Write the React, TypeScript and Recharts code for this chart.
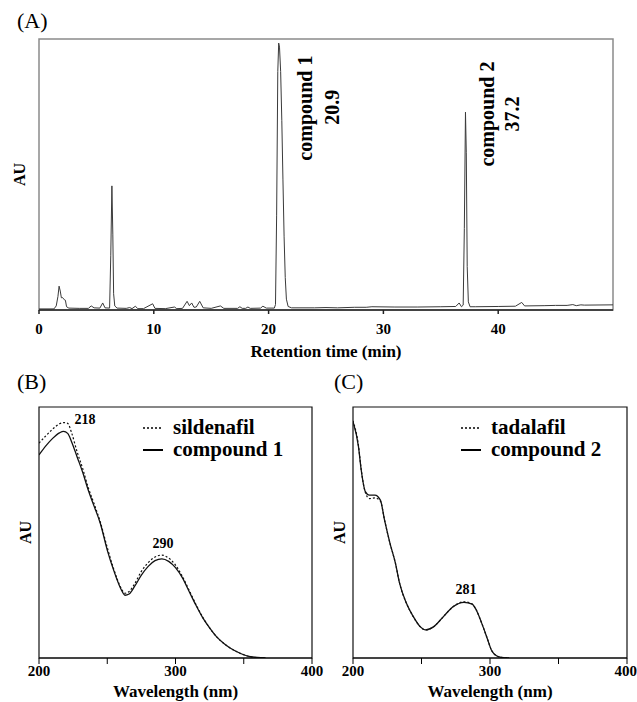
import React from "react";
import {
  LineChart,
  Line,
  XAxis,
  YAxis,
  ReferenceArea,
  ReferenceDot,
  Legend,
} from "recharts";

const SERIF = "'Liberation Serif', 'Times New Roman', serif";

// (A) chromatogram
const chromTime = [
  0, 1.3, 1.5, 1.65, 1.75, 1.85, 1.95, 2.05, 2.2, 2.3, 2.4, 2.6, 3.5, 4.3, 4.55,
  4.8, 5.3, 5.55, 5.75, 6.15, 6.25, 6.35, 6.43, 6.5, 6.6, 6.8, 7.6, 7.9, 8.1,
  8.4, 8.6, 9.1, 9.9, 10.1, 11.0, 11.8, 12.0, 12.5, 12.9, 13.1, 13.3, 13.5, 13.7,
  14.0, 14.3, 15.0, 15.8, 16.1, 17.3, 17.5, 17.7, 18.0, 18.2, 18.4, 19.3, 19.5,
  19.8, 20.5, 20.6, 20.7, 20.8, 20.88, 20.95, 21.05, 21.15, 21.25, 21.35, 21.45,
  21.55, 21.7, 22.0, 24, 25, 26, 27.5, 28.5, 29, 31, 33, 35, 36.3, 36.6, 36.8,
  36.95, 37.05, 37.15, 37.22, 37.3, 37.4, 37.55, 38, 40, 41.5, 42.05, 42.3, 44,
  45, 46, 46.5, 46.8, 47.2, 47.5, 50,
];
const chromAU = [
  0.4, 0.4, 1.5, 5, 8.8, 7, 4.5, 4.6, 3.8, 3.6, 1.2, 0.7, 0.6, 0.6, 1.5,
  0.8, 0.7, 2.6, 0.8, 0.7, 20, 45.8, 28, 6, 1.5, 0.7, 0.6, 0.9, 0.5,
  1.4, 0.5, 0.5, 2.3, 0.6, 0.5, 1.1, 0.5, 0.6, 3.2, 1.6, 2.6, 1, 1.1,
  3.2, 0.8, 0.6, 1.5, 0.6, 0.6, 1.2, 0.6, 0.6, 1.1, 0.6, 0.7, 1.4,
  0.7, 0.7, 2, 35, 88, 98.5, 97, 88, 70, 48, 27, 12,
  4, 1.3, 0.8, 0.8, 0.9, 0.8, 1.0, 1.0, 1.2, 1.1, 1.1, 1.2, 1.3, 2.6, 1.2,
  1.8, 30, 73, 58, 16, 3, 1.2, 1.2, 1.3, 1.4, 2.8, 1.5, 1.6,
  1.7, 1.7, 2, 1.6, 1.9, 1.8, 1.9,
];
const chromTicks = [0, 10, 20, 30, 40];

// (B) UV spectra, sildenafil vs compound 1
const wlB = [
  200, 205, 210, 215, 218, 221, 224, 228, 232, 236, 240, 245, 250, 255, 260, 263,
  266, 270, 275, 280, 285, 290, 295, 300, 305, 310, 315, 320, 325, 330, 335, 340,
  345, 350, 355, 360, 366,
];
const sildenafil = [
  85.6, 88.5, 91.2, 93.3, 93.8, 93.5, 89.5, 82, 75.5, 68, 62, 54, 44, 35, 28,
  25.8, 26.5, 29.5, 34.5, 38, 40.2, 41, 39.8, 37, 32.5, 27, 21.3, 16.2, 12, 8.5,
  6, 4, 2.5, 1.3, 0.5, 0.2, 0,
];
const compound1 = [
  80.9, 84.5, 87.5, 89.7, 90.3, 89.5, 86, 80, 74, 67, 61, 53.5, 43, 34.5, 27.5,
  25, 25.5, 28.5, 33, 36.5, 38.8, 39.5, 38.5, 36, 32, 26.5, 21, 16, 12, 8.5, 6,
  4, 2.5, 1.3, 0.5, 0.2, 0,
];

// (C) UV spectra, tadalafil vs compound 2
const wlC = [
  200, 204, 206, 209, 212, 216, 220, 223, 227, 231, 234, 239, 244, 249, 253, 259,
  266, 273, 281, 287, 290, 294, 298, 301, 305, 310, 314,
];
const tadalafil = [
  94.5, 84.5, 75, 66, 63.5, 63.8, 62.5, 55, 45.7, 37.7, 29.8, 21.8, 16.5, 12.5,
  11.2, 12.5, 16.5, 20.4, 22.4, 21.5, 19.1, 13.8, 7.8, 3.2, 0.8, 0.1, 0,
];
const compound2 = [
  94.1, 84.2, 74.9, 66.3, 64.9, 64.9, 62.9, 55, 45.7, 37.7, 29.8, 21.8, 16.5, 12.5,
  11.2, 12.5, 16.5, 20.4, 22.2, 21.5, 19.1, 13.8, 7.8, 3.2, 0.8, 0.1, 0,
];
const wlTicks = [200, 250, 300, 350, 400];

const chromTable = chromTime.map((t, i) => ({ t, au: chromAU[i] }));
const tableB = wlB.map((wl, i) => ({ wl, ref: sildenafil[i], cmp: compound1[i] }));
const tableC = wlC.map((wl, i) => ({ wl, ref: tadalafil[i], cmp: compound2[i] }));

const tickStyle = { fill: "#000", fontSize: 15, fontWeight: "bold", fontFamily: SERIF };
const axisTitle = { fill: "#000", fontSize: 17, fontWeight: "bold", fontFamily: SERIF };
const auLabel = { value: "AU", angle: -90, position: "center", fill: "#000", fontSize: 16, fontWeight: "bold", fontFamily: SERIF };

function SpectrumLegend({ payload }: any) {
  // reference series (dotted) first, then the compound (solid)
  const items = [...(payload || [])].sort(
    (a: any, b: any) => (a.dataKey === "ref" ? 0 : 1) - (b.dataKey === "ref" ? 0 : 1)
  );
  return (
    <div style={{ fontFamily: SERIF, fontWeight: "bold", fontSize: 21, lineHeight: "22px", color: "#000" }}>
      {items.map((entry: any) => {
        const dotted = entry.dataKey === "ref";
        return (
          <div key={entry.value} style={{ display: "flex", alignItems: "center", whiteSpace: "nowrap", height: 22 }}>
            <svg width={20} height={22} style={{ marginRight: 10 }}>
              <line
                x1={0}
                x2={20}
                y1={12}
                y2={12}
                stroke="#000"
                strokeWidth={dotted ? 1.3 : 2}
                strokeDasharray={dotted ? "2 2" : undefined}
              />
            </svg>
            <span>{entry.value}</span>
          </div>
        );
      })}
    </div>
  );
}

function PanelLabel({ text, left, top }: { text: string; left: number; top: number }) {
  return (
    <div style={{ position: "absolute", left, top, fontFamily: SERIF, fontSize: 22, lineHeight: "22px", color: "#000" }}>
      {text}
    </div>
  );
}

function Spectrum({ data, refName, cmpName, peaks, left, width, marginLeft, yWidth, marginRight }: any) {
  return (
    <div style={{ position: "absolute", left, top: 340 }}>
      <LineChart
        width={width}
        height={362}
        data={data}
        margin={{ top: 67, right: marginRight, left: marginLeft, bottom: 0 }}
      >
        <XAxis
          dataKey="wl"
          type="number"
          domain={[200, 400]}
          ticks={wlTicks}
          allowDataOverflow
          tickFormatter={(v) => (v % 100 === 0 ? String(v) : "")}
          tickSize={6}
          tickMargin={1}
          tick={tickStyle}
          stroke="#000"
          height={44}
          label={{ value: "Wavelength (nm)", position: "insideBottom", offset: 5, ...axisTitle }}
        />
        <YAxis
          type="number"
          domain={[0, 100]}
          allowDataOverflow
          width={yWidth}
          tick={false}
          tickLine={false}
          axisLine={false}
          label={auLabel}
        />
        <ReferenceArea x1={200} x2={400} y1={0} y2={100} fill="none" stroke="#111" strokeWidth={1.2} />
        <Legend
          layout="vertical"
          align="center"
          verticalAlign="middle"
          wrapperStyle={{ left: 143, top: 76, width: "auto" }}
          content={SpectrumLegend}
        />
        <Line
          dataKey="ref"
          name={refName}
          type="monotone"
          stroke="#111"
          strokeWidth={1.2}
          strokeDasharray="2 2"
          dot={false}
          activeDot={false}
          isAnimationActive={false}
        />
        <Line
          dataKey="cmp"
          name={cmpName}
          type="monotone"
          stroke="#111"
          strokeWidth={1.3}
          dot={false}
          activeDot={false}
          isAnimationActive={false}
        />
        {peaks.map((p: any) => (
          <ReferenceDot
            key={p.text}
            x={p.x}
            y={p.y}
            r={1}
            fill="none"
            stroke="none"
            label={{ value: p.text, position: "center", fill: "#000", fontSize: 14, fontWeight: "bold", fontFamily: SERIF }}
          />
        ))}
      </LineChart>
    </div>
  );
}

export default function App() {
  return (
    <div style={{ position: "absolute", left: 0, top: 0, width: 637, height: 702, background: "#fff", fontFamily: SERIF, overflow: "hidden" }}>
      <div style={{ position: "absolute", left: 0, top: 0 }}>
        <LineChart
          width={637}
          height={370}
          data={chromTable}
          margin={{ top: 39, right: 24, left: 0, bottom: 13 }}
        >
          <XAxis
            dataKey="t"
            type="number"
            domain={[0, 50]}
            ticks={chromTicks}
            allowDataOverflow
            tickSize={4}
            tickMargin={9}
            tick={tickStyle}
            stroke="#222"
            strokeWidth={1.5}
            height={47}
            label={{ value: "Retention time (min)", position: "insideBottom", offset: 0, ...axisTitle }}
          />
          <YAxis
            type="number"
            domain={[0, 100]}
            allowDataOverflow
            width={39}
            tick={false}
            tickLine={false}
            axisLine={false}
            label={auLabel}
          />
          <ReferenceArea x1={0} x2={50} y1={0} y2={100} fill="none" stroke="#8a8a8a" strokeWidth={1.5} />
          <Line
            dataKey="au"
            type="linear"
            stroke="#3a3a3a"
            strokeWidth={1}
            dot={false}
            activeDot={false}
            isAnimationActive={false}
          />
          <ReferenceDot x={23.2} y={74.5} r={1} fill="none" stroke="none"
            label={{ value: "compound 1", angle: -90, position: "center", fill: "#000", fontSize: 20, fontWeight: "bold", fontFamily: SERIF }} />
          <ReferenceDot x={25.5} y={74.8} r={1} fill="none" stroke="none"
            label={{ value: "20.9", angle: -90, position: "center", fill: "#000", fontSize: 20, fontWeight: "bold", fontFamily: SERIF }} />
          <ReferenceDot x={39.0} y={72.3} r={1} fill="none" stroke="none"
            label={{ value: "compound 2", angle: -90, position: "center", fill: "#000", fontSize: 20, fontWeight: "bold", fontFamily: SERIF }} />
          <ReferenceDot x={41.2} y={72.3} r={1} fill="none" stroke="none"
            label={{ value: "37.2", angle: -90, position: "center", fill: "#000", fontSize: 20, fontWeight: "bold", fontFamily: SERIF }} />
        </LineChart>
      </div>

      <Spectrum
        data={tableB}
        refName="sildenafil"
        cmpName="compound 1"
        peaks={[
          { text: "218", x: 233.7, y: 95.2 },
          { text: "290", x: 290.8, y: 45.8 },
        ]}
        left={0}
        width={330}
        marginLeft={11}
        yWidth={28}
        marginRight={18}
      />
      <Spectrum
        data={tableC}
        refName="tadalafil"
        cmpName="compound 2"
        peaks={[{ text: "281", x: 282.5, y: 27.5 }]}
        left={318}
        width={319}
        marginLeft={7}
        yWidth={28}
        marginRight={10}
      />

      <PanelLabel text="(A)" left={17} top={10} />
      <PanelLabel text="(B)" left={17} top={371} />
      <PanelLabel text="(C)" left={334} top={371} />
    </div>
  );
}
